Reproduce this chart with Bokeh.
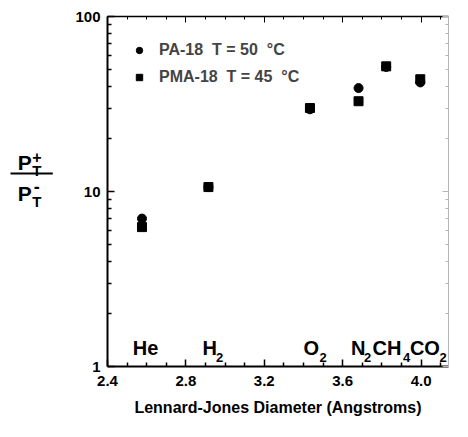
from bokeh.plotting import figure
from bokeh.layouts import row
from bokeh.models import (FixedTicker, LinearAxis, LogAxis, Legend, LegendItem, Range1d,
                          NumeralTickFormatter, CustomLabelingPolicy)
from bokeh.core.properties import value
from bokeh.embed import file_html
from bokeh.resources import INLINE

# ---- data ----
gases = ["He", "H2", "O2", "N2", "CH4", "CO2"]
diameter = [2.576, 2.915, 3.433, 3.681, 3.822, 3.996]     # Lennard-Jones diameter (Angstrom)
pa18_ratio = [7.0, 10.6, 29.5, 39.0, 51.5, 42.0]          # PA-18, T = 50 C
pma18_ratio = [6.26, 10.6, 30.0, 32.8, 51.9, 43.8]        # PMA-18, T = 45 C

x_major = [2.4, 2.8, 3.2, 3.6, 4.0]
x_minor = [2.5, 2.6, 2.7, 2.9, 3.0, 3.1, 3.3, 3.4, 3.5, 3.7, 3.8, 3.9, 4.1]
y_major = [1, 10, 100]
y_minor = [2, 3, 4, 5, 6, 7, 8, 9, 20, 30, 40, 50, 60, 70, 80, 90]

# gas labels (main part + subscript)
label_main = ["He", "H", "O", "N", "CH", "CO"]
label_main_x = [2.529, 2.885, 3.4005, 3.643, 3.752, 3.943]
label_sub = ["", "2", "2", "2", "4", "2"]

FONT = "Liberation Sans"
LEFT_W = 60
H = 421

# ---------- left strip: y-axis title P_T^+ / P_T^- ----------
lf = figure(width=LEFT_W, height=H, x_range=Range1d(0, LEFT_W), y_range=Range1d(H, 0),
            output_backend="svg", toolbar_location=None,
            x_axis_location=None, y_axis_location=None,
            min_border=0, min_border_left=0, min_border_right=0,
            min_border_top=0, min_border_bottom=0)
lf.grid.visible = False
lf.outline_line_color = None
lf.background_fill_color = "white"
lf.border_fill_color = "white"

def ltxt(x, y, t, size):
    lf.text(x=[x], y=[y], text=[t], text_font=value(FONT), text_font_style="bold",
            text_font_size=size, text_baseline="alphabetic", text_align="left",
            text_color="black")

ltxt(17.3, 175.5, "P", "21px")
ltxt(31.7, 168.5, "+", "16px")
ltxt(31.7, 185.0, "T", "15px")
lf.segment(x0=[10], y0=[188.8], x1=[52.3], y1=[188.8], line_color="black", line_width=2)
ltxt(17.3, 213.3, "P", "21px")
ltxt(33.3, 204.2, "-", "18px")
ltxt(31.7, 222.6, "T", "15px")

# ---------- main plot ----------
p = figure(width=452 - LEFT_W, height=H, y_axis_type="log",
           x_range=Range1d(2.4, 4.14), y_range=Range1d(1, 100),
           output_backend="svg", toolbar_location=None,
           min_border_left=107 - LEFT_W, min_border_right=2,
           min_border_top=16, min_border_bottom=55)
p.grid.visible = False
p.outline_line_color = None
p.background_fill_color = "white"
p.border_fill_color = "white"

xa = p.xaxis[0]
xa.ticker = FixedTicker(ticks=x_major, minor_ticks=x_minor)
xa.formatter = NumeralTickFormatter(format="0.0")
xa.axis_label = "Lennard-Jones Diameter (Angstroms)"
ya = p.yaxis[0]
ya.ticker = FixedTicker(ticks=y_major, minor_ticks=y_minor)
ya.major_label_overrides = {1: "1", 10: "10", 100: "100"}

for ax in (xa, ya):
    ax.axis_line_width = 2
    ax.axis_line_color = "black"
    ax.major_tick_in = 7
    ax.major_tick_out = 0
    ax.minor_tick_in = 4
    ax.minor_tick_out = 0
    ax.major_tick_line_width = 1.5
    ax.minor_tick_line_width = 1.5
    ax.major_label_text_font = FONT
    ax.major_label_text_font_style = "bold"
    ax.major_label_text_font_size = "15px"
    ax.major_label_text_color = "black"
    ax.axis_label_text_font = FONT
    ax.axis_label_text_font_style = "bold"
    ax.axis_label_text_font_size = "16px"
    ax.axis_label_text_color = "black"
xa.major_label_standoff = 9
xa.axis_label_standoff = 10
ya.major_label_standoff = 7

# top and right axes: ticks only
no_labels = CustomLabelingPolicy(code="""
try { return new indices.constructor(indices.size, 0) } catch (e) { return indices }
""")
top = LinearAxis(ticker=FixedTicker(ticks=x_major, minor_ticks=x_minor))
right = LogAxis(ticker=FixedTicker(ticks=y_major, minor_ticks=y_minor))
for ax, col, w in ((top, "black", 1.5), (right, "#b5b5b5", 1)):
    ax.axis_line_color = col
    ax.axis_line_width = w
    ax.major_tick_line_color = col
    ax.minor_tick_line_color = col
    ax.major_tick_in = 6
    ax.major_tick_out = 0
    ax.minor_tick_in = 3
    ax.minor_tick_out = 0
    ax.major_label_policy = no_labels
    ax.major_label_standoff = 0
    ax.major_label_text_font_size = "1px"
p.add_layout(top, "above")
p.add_layout(right, "right")

# data
r_pa = p.scatter(diameter, pa18_ratio, marker="circle", size=9, color="black")
r_pma = p.scatter(diameter, pma18_ratio, marker="square", size=9, color="black")

legend = Legend(items=[LegendItem(label="PA-18  T = 50  °C", renderers=[r_pa]),
                       LegendItem(label="PMA-18  T = 45  °C", renderers=[r_pma])],
                location="top_left")
legend.background_fill_alpha = 0
legend.border_line_color = None
legend.label_text_font = FONT
legend.label_text_font_style = "bold"
legend.label_text_font_size = "16px"
legend.glyph_width = 16
legend.glyph_height = 20
legend.label_standoff = 12
legend.spacing = 7
legend.padding = 7
legend.margin = 24
p.add_layout(legend)

# gas labels
sub_offset = [0, 13.5, 16, 13, 30.5, 29.5]
p.text(x=label_main_x, y=[1.27] * len(label_main), text=label_main,
       text_font=value(FONT), text_font_style="bold", text_font_size="20px",
       text_baseline="alphabetic", text_align="left", text_color="black")
p.text(x=label_main_x, y=[1.125] * len(label_sub), text=label_sub, x_offset=sub_offset,
       text_font=value(FONT), text_font_style="bold", text_font_size="13px",
       text_baseline="alphabetic", text_align="left", text_color="black")

layout = row(lf, p, spacing=0)
open("out.html", "w").write(file_html(layout, INLINE))
